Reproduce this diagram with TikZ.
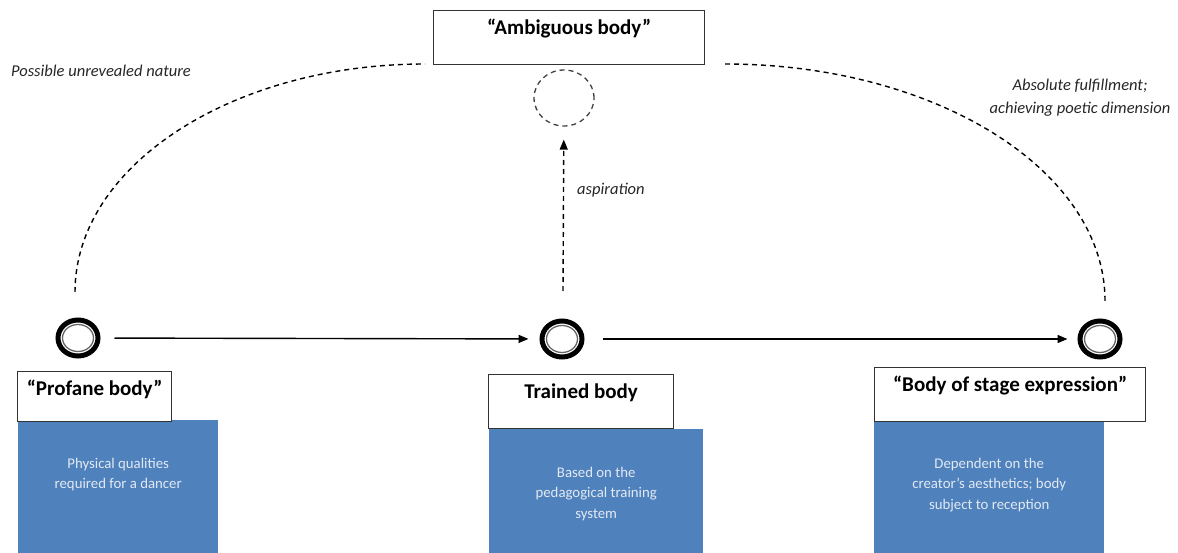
\documentclass[tikz,border=0pt]{standalone}
\usepackage{fontspec}
\setmainfont{Carlito}
\usetikzlibrary{arrows.meta,shapes.geometric,calc}
\definecolor{boxblue}{HTML}{4F81BD}
\definecolor{paletext}{HTML}{E2E9F3}
\definecolor{frame}{HTML}{333333}
\begin{document}
\begin{tikzpicture}[x=1pt,y=-1pt,
  ring/.style={ellipse, draw=black, line width=5pt, minimum width=40pt, minimum height=36pt, inner sep=0pt,
    path picture={\draw[black!60, line width=1.3pt] (path picture bounding box.center) ellipse [x radius=15.5pt, y radius=13.5pt];}},
  titlebox/.style={draw=frame, line width=1.2pt, fill=white, anchor=north west, inner sep=0pt},
  titletext/.style={anchor=center, font=\fontsize{21}{25}\selectfont\bfseries, inner sep=0pt},
  bluebox/.style={fill=boxblue, draw=none, anchor=north west, inner sep=0pt},
  bluetext/.style={anchor=north, align=center, text=paletext, font=\fontsize{14.8}{20.5}\selectfont, inner sep=0pt},
  note/.style={align=center, font=\fontsize{16.5}{23}\selectfont\itshape, text=black!85, inner sep=0pt},
  flow/.style={line width=1.4pt, -{Triangle[length=10pt,width=8pt]}},
  dashline/.style={line width=1.4pt, dash pattern=on 5pt off 4pt},
]
\useasboundingbox (0,0) rectangle (1178,553);

% Ambiguous body
\node[titlebox, minimum width=271pt, minimum height=54pt] (ambbox) at (433,10) {};
\node[titletext] (ambtxt) at ($(ambbox.north)+(0,19)$) {“Ambiguous body”};
\node[ellipse, draw=black!75, line width=1.3pt, dash pattern=on 5pt off 4pt, minimum width=60pt, minimum height=56pt, inner sep=0pt] (ambc) at (564,98) {};

% rings
\node[ring] (c1) at (78,338) {};
\node[ring] (c2) at (562,339) {};
\node[ring] (c3) at (1100,339) {};

% horizontal arrows
\draw[flow, shorten <=14pt, shorten >=11pt] (c1) -- (c2);
\draw[flow, shorten <=18pt, shorten >=10pt] (c2) -- (c3);

% aspiration
\coordinate (asp0) at (563,291);
\draw[dashline, -{Triangle[length=10pt,width=8pt]}, shorten >=13pt] (asp0) -- (ambc);
\node[note, anchor=west] (asplbl) at (577,190) {aspiration};

% dashed arcs
\coordinate (l0) at (75,292);
\coordinate (l1) at (425,64);
\draw[dashline] (l0) .. controls +(0,-126) and +(-193,0) .. (l1);
\coordinate (r1) at (725,64);
\coordinate (r0) at (1105,301);
\draw[dashline] (r1) .. controls +(210,0) and +(0,-131) .. (r0);

\node[note] (leftnote) at (101,71) {Possible unrevealed nature};
\node[note] (rightnote) at (1080,98) {Absolute fulfillment;\\achieving poetic dimension};

% Profane body
\node[bluebox, minimum width=200pt, minimum height=133pt] (pdesc) at (18,420) {};
\node[titlebox, minimum width=154pt, minimum height=50pt] (pbox) at (17,371) {};
\node[titletext] (ptxt) at ($(pbox.north)+(0,18)$) {“Profane body”};
\node[bluetext] (pdtxt) at ($(pdesc.north)+(0,38)$) {Physical qualities\\required for a dancer};

% Trained body
\node[bluebox, minimum width=214pt, minimum height=124pt] (tdesc) at (489,429) {};
\node[titlebox, minimum width=185pt, minimum height=54pt] (tbox) at (488,374) {};
\node[titletext] (ttxt) at ($(tbox.north)+(0,19)$) {Trained body};
\node[bluetext] (tdtxt) at ($(tdesc.north)+(0,38)$) {Based on the\\pedagogical training\\system};

% Body of stage expression
\node[bluebox, minimum width=230pt, minimum height=133pt] (sdesc) at (874,420) {};
\node[titlebox, minimum width=271pt, minimum height=54pt] (sbox) at (874,367) {};
\node[titletext] (stxt) at ($(sbox.north)+(0,19)$) {“Body of stage expression”};
\node[bluetext] (sdtxt) at ($(sdesc.north)+(0,38)$) {Dependent on the\\creator’s aesthetics; body\\subject to reception};
\end{tikzpicture}
\end{document}
